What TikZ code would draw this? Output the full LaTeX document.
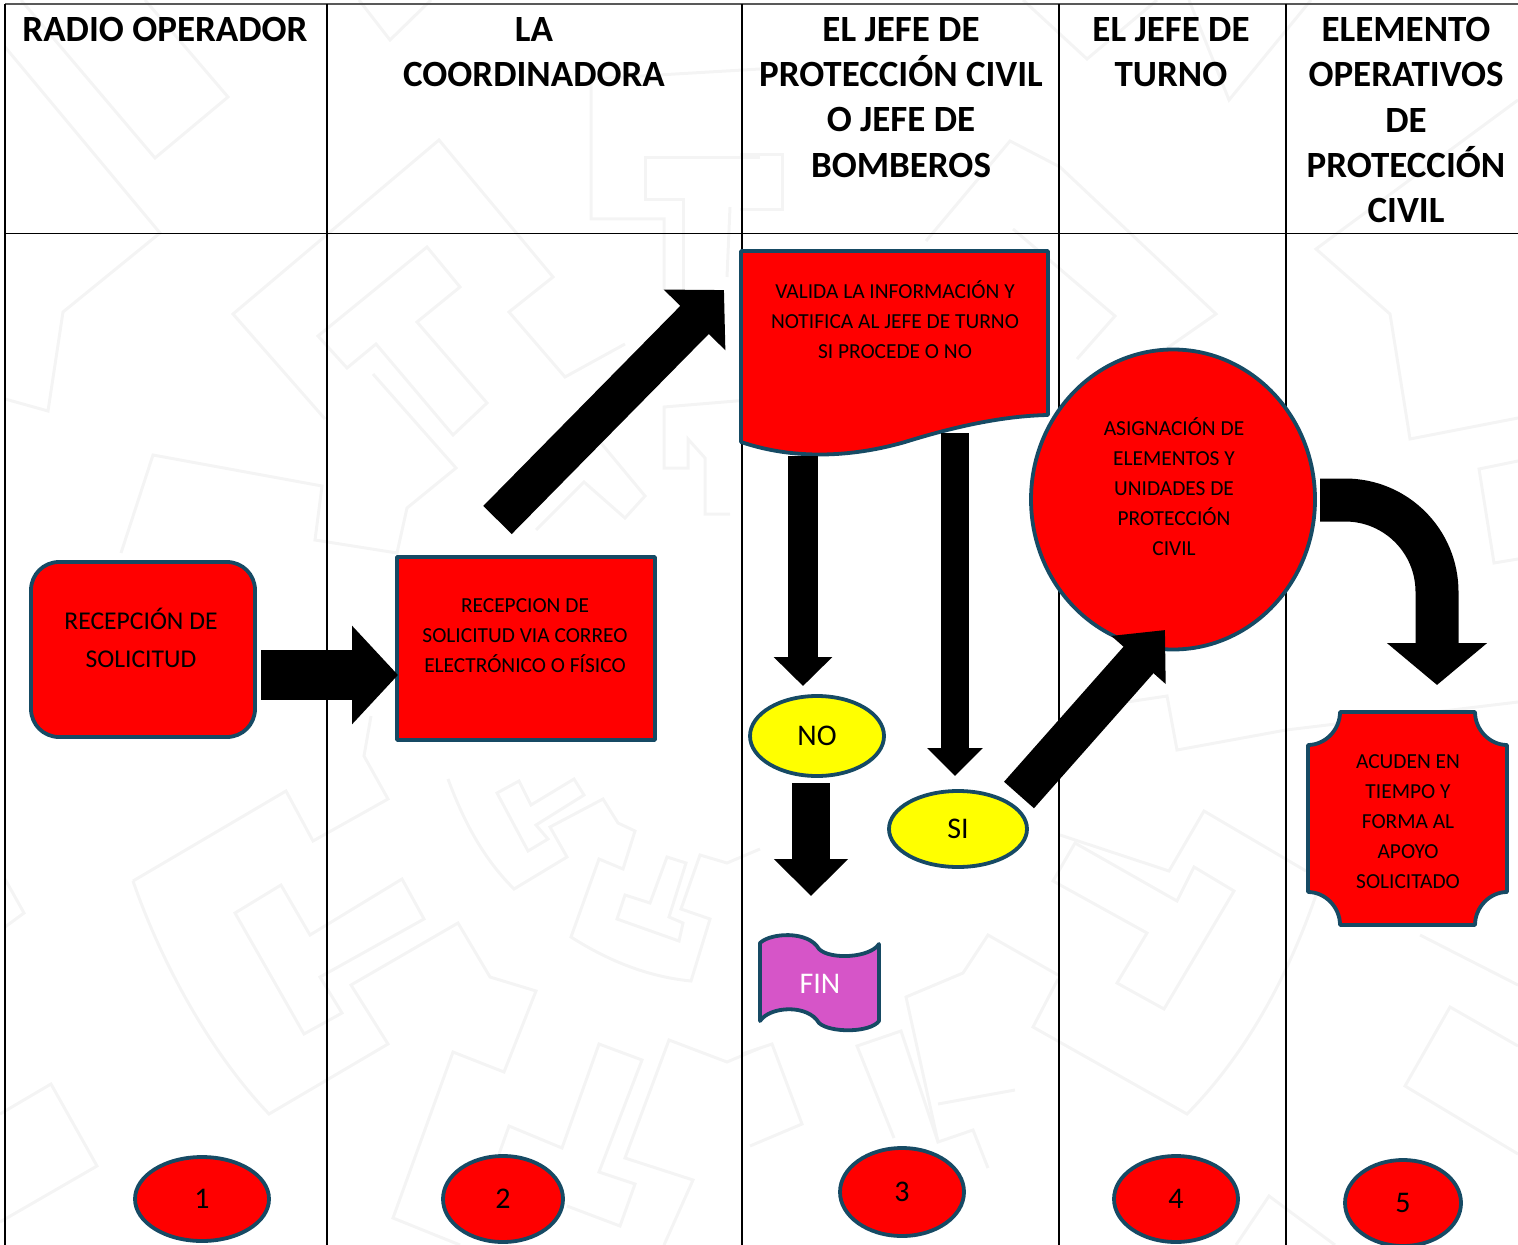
\documentclass[tikz,border=0pt]{standalone}
\usepackage{fontspec}
\setmainfont{Carlito}
\usetikzlibrary{arrows.meta,shapes.geometric}
\definecolor{shapeedge}{RGB}{22,74,100}
\definecolor{finfill}{RGB}{214,85,200}
\definecolor{markline}{RGB}{244,244,244}
\definecolor{ovalfill}{RGB}{255,255,0}
\tikzset{
  header/.style={align=center, font=\fontsize{18.5}{22.6}\selectfont\bfseries},
  bodytext/.style={align=center, font=\fontsize{10.7}{15}\selectfont},
  bigtext/.style={align=center, font=\fontsize{12.8}{19}\selectfont},
  shapeline/.style={draw=shapeedge, line width=1.9pt, line join=round},
  redbox/.style={shapeline, fill=red, inner sep=0pt, outer sep=0pt},
  oval/.style={shapeline, ellipse, inner sep=0pt, outer sep=0pt, font=\fontsize{15}{17}\selectfont},
  grid/.style={line width=0.7pt},
  watermark/.style={draw=markline, line width=1.5pt, line join=miter},
}
\begin{document}
\begin{tikzpicture}[x=0.5pt, y=-0.5pt]
    \useasboundingbox (0, 0) rectangle (1518, 1245);

    % faint background mark
    \draw [watermark] (5, 47) -- (160, 233) -- (63, 312) -- (48, 411) -- (5, 399);
    \draw [watermark] (21, 0) -- (155, 158) -- (228, 97) -- (145, 0);
    \draw [watermark] (359, 0) -- (390, 40) -- (431, 0);
    \draw [watermark] (325, 419) -- (233, 314) -- (439, 140) -- (553, 277) -- (509, 312) -- (565, 377) -- (625, 344);
    \draw [watermark] (318, 336) -- (427, 247) -- (460, 287) -- (417, 322) -- (487, 403) -- (453, 435) -- (376, 344) -- (347, 368) --cycle;
    \draw [watermark] (373, 374) -- (456, 468) -- (407, 508) -- (397, 553) -- (315, 540) -- (322, 486) -- (153, 455) -- (121, 553);
    \draw [watermark] (760, 69) -- (591, 79) -- (591, 219) -- (664, 219) -- (664, 290);
    \draw [watermark] (760, 158) -- (645, 158) -- (645, 200) -- (683, 200) -- (683, 291);
    \draw [watermark] (730, 207) -- (727, 277);
    \draw [watermark] (760, 399) -- (664, 407) -- (664, 468) -- (688, 468) -- (688, 439) -- (705, 458) -- (705, 514) -- (730, 514);
    \draw [watermark] (601, 443) -- (645, 496) -- (625, 518) -- (584, 482) -- (536, 530);
    \draw [watermark] (133, 881) -- (286, 791) -- (313, 841) -- (388, 799) -- (364, 756) -- (371, 716);
    \draw [watermark] (133, 881) .. controls (160, 959) and (208, 1050) .. (269, 1114) -- (388, 1044) -- (351, 985) -- (458, 923) -- (490, 977) -- (536, 991) -- (504, 1072) -- (453, 1052) -- (393, 1218) -- (460, 1245);
    \draw [watermark] (235, 913) -- (281, 885) -- (310, 935) -- (402, 879) -- (424, 919) -- (320, 977) -- (342, 1013) -- (304, 1034) --cycle;
    \draw [watermark] (497, 793) -- (519, 781) -- (531, 805) -- (574, 779) -- (584, 795) -- (536, 825) -- (548, 839) -- (528, 851) --cycle;
    \draw [watermark] (448, 779) .. controls (465, 825) and (485, 860) .. (514, 889) -- (567, 857) -- (550, 827) -- (603, 799) -- (618, 823) -- (635, 831) -- (623, 869) -- (599, 859) -- (571, 937) .. controls (610, 962) and (650, 977) .. (691, 981) -- (710, 919) -- (681, 909) -- (700, 855) -- (727, 863) -- (760, 849);
    \draw [watermark] (667, 857) -- (686, 863) -- (669, 917) -- (683, 923) -- (679, 941) -- (617, 919) -- (625, 895) -- (650, 903) --cycle;
    \draw [watermark] (760, 1048) -- (727, 1062) -- (669, 1040) -- (625, 1158) -- (693, 1180) -- (664, 1245);
    \draw [watermark] (499, 1154) -- (509, 1126) -- (562, 1148) -- (599, 1044) -- (642, 1060) -- (599, 1172) -- (635, 1184) -- (620, 1226) -- (567, 1206);
    \draw [watermark] (0, 1114) -- (51, 1084) -- (97, 1166) -- (0, 1222);
    \draw [watermark] (5, 879) -- (24, 913) -- (5, 927);
    \draw [watermark] (1023, 0) -- (1087, 59) -- (1157, 0);
    \draw [watermark] (1189, 0) -- (1229, 100) -- (1311, 0);
    \draw [watermark] (740, 155) -- (782, 155) -- (782, 210) -- (740, 210);
    \draw [watermark] (926, 241) -- (1010, 141) -- (1060, 167) -- (1216, 314) -- (1150, 360);
    \draw [watermark] (1013, 229) -- (1115, 316) -- (1077, 359);
    \draw [watermark] (1518, 100) -- (1316, 249) -- (1390, 314) -- (1410, 439) -- (1518, 418);
    \draw [watermark] (1518, 461) -- (1479, 469) -- (1494, 563) -- (1518, 559);
    \draw [watermark] (1127, 702) -- (1167, 696) -- (1177, 750) -- (1286, 730) -- (1518, 702);
    \draw [watermark] (1060, 835) -- (1169, 871) -- (1204, 811) -- (1306, 871);
    \draw [watermark] (1075, 843) -- (1053, 881) -- (1147, 933) -- (1117, 983) -- (1164, 1009) -- (1234, 891) -- (1194, 867) -- (1177, 901) --cycle;
    \draw [watermark] (1058, 979) -- (1033, 1027) -- (1187, 1114) .. controls (1250, 1050) and (1290, 970) .. (1316, 895);
    \draw [watermark] (1058, 975) -- (988, 935) -- (963, 973) -- (906, 997) -- (938, 1142) -- (973, 1130) -- (988, 1168);
    \draw [watermark] (938, 1104) -- (1015, 1090);
    \draw [watermark] (894, 1138) -- (857, 1046) -- (901, 1031) -- (938, 1142);
    \draw [watermark] (750, 1146) -- (802, 1124) -- (772, 1044) -- (742, 1054);
    \draw [watermark] (1518, 1046) -- (1450, 1007) -- (1405, 1086) -- (1518, 1154);
    \draw [watermark] (1518, 985) -- (1420, 935);
    \draw [watermark] (1236, 1245) -- (1269, 1196) -- (1335, 1245);

    % table
    \draw [grid, black!65] (5, 4) -- (1518, 4);
    \draw [grid] (5, 233.5) -- (1518, 233.5);
    \draw [grid] (5, 4) -- (5, 1245);
    \draw [grid] (327, 4) -- (327, 1245);
    \draw [grid] (742, 4) -- (742, 1245);
    \draw [grid] (1059, 4) -- (1059, 1245);
    \draw [grid] (1286, 4) -- (1286, 1245);

    \node [header] (radiohead) at (165, 30) {RADIO OPERADOR};
    \node [header] (coordhead) at (534, 52) {LA\\COORDINADORA};
    \node [header] (jefehead) at (901, 97.5) {EL JEFE DE\\PROTECCIÓN CIVIL\\O JEFE DE\\BOMBEROS};
    \node [header] (turnohead) at (1171, 52) {EL JEFE DE\\TURNO};
    \node [header] (elemhead) at (1406, 120) {ELEMENTO\\OPERATIVOS\\DE\\PROTECCIÓN\\CIVIL};

    % shapes
    \node (recep) [redbox, rounded corners=14pt, minimum width=112pt, minimum height=87.5pt] at (143, 649.5) {};
    \node [bigtext] (receptext) at (141, 638) {RECEPCIÓN DE\\SOLICITUD};

    \node (solic) [redbox, minimum width=129pt, minimum height=91.5pt] at (526, 648.5) {};
    \node [bodytext] (solictext) at (525, 636) {RECEPCION DE\\SOLICITUD VIA CORREO\\ELECTRÓNICO O FÍSICO};

    \draw [shapeline, fill=red] (741, 251) -- (1048, 251) -- (1048, 415)
      .. controls (1000, 416) and (950, 428) .. (905, 442)
      .. controls (860, 455) and (800, 462) .. (741, 442) --cycle;
    \node [bodytext] (validatext) at (895, 320) {VALIDA LA INFORMACIÓN Y\\NOTIFICA AL JEFE DE TURNO\\SI PROCEDE O NO};

    \node (asign) [oval, fill=red, minimum width=142pt, minimum height=150pt] at (1173, 499.5) {};
    \node [bodytext] (asigntext) at (1174, 487) {ASIGNACIÓN DE\\ELEMENTOS Y\\UNIDADES DE\\PROTECCIÓN\\CIVIL};

    \node (no) [oval, fill=ovalfill, minimum width=67pt, minimum height=40pt] at (817, 736) {NO};
    \node (si) [oval, fill=ovalfill, minimum width=69pt, minimum height=38pt] at (958, 829) {\raisebox{-1pt}{SI}};

    \draw [shapeline, fill=finfill] (760, 943)
      .. controls (770, 933) and (808, 930) .. (819, 949)
      .. controls (830, 960) and (870, 958) .. (879, 944) -- (879, 1021)
      .. controls (870, 1033) and (830, 1033) .. (819, 1023)
      .. controls (808, 1004) and (770, 1006) .. (760, 1021) --cycle;
    \node [font=\fontsize{15}{17}\selectfont, text=white] (fin) at (820, 984) {FIN};

    \draw [shapeline, fill=red] (1340, 712) -- (1475, 712)
      .. controls (1475, 730) and (1490, 745) .. (1507, 745) -- (1507, 892)
      .. controls (1490, 892) and (1475, 907) .. (1475, 925) -- (1340, 925)
      .. controls (1340, 907) and (1325, 892) .. (1308, 892) -- (1308, 745)
      .. controls (1325, 745) and (1340, 730) .. (1340, 712) --cycle;
    \node [bodytext] (acudentext) at (1408, 821.5) {ACUDEN EN\\TIEMPO Y\\FORMA AL\\APOYO\\SOLICITADO};

    \node (uno) [oval, fill=red, minimum width=67pt, minimum height=42pt] at (202, 1199) {1};
    \node (dos) [oval, fill=red, minimum width=60pt, minimum height=43pt] at (503, 1199) {2};
    \node (tres) [oval, fill=red, minimum width=62pt, minimum height=44pt] at (902, 1192) {3};
    \node (cuatro) [oval, fill=red, minimum width=62pt, minimum height=43pt] at (1176, 1199) {4};
    \node (cinco) [oval, fill=red, minimum width=58pt, minimum height=43pt] at (1403, 1203) {5};

    % arrows
    \coordinate (a1) at (261, 675);
    \coordinate (b1) at (398, 675);
    \draw [line width=25pt, -{Triangle[width=48pt, length=23pt]}] (a1) -- (b1);

    \coordinate (a2) at (497.5, 520);
    \coordinate (b2) at (724, 290);
    \draw [line width=20pt, -{Triangle[width=42pt, length=21pt]}] (a2) -- (b2);

    \coordinate (a3) at (803, 456);
    \coordinate (b3) at (803, 686);
    \draw [line width=15pt, -{Triangle[width=28.5pt, length=14.5pt]}] (a3) -- (b3);

    \coordinate (a4) at (955, 433);
    \coordinate (b4) at (955, 776);
    \draw [line width=14pt, -{Triangle[width=27pt, length=14pt]}] (a4) -- (b4);

    \coordinate (a5) at (1019, 795);
    \coordinate (b5) at (1165, 630);
    \draw [line width=20pt, -{Triangle[width=35pt, length=20pt]}] (a5) -- (b5);

    \coordinate (a6) at (811, 783);
    \coordinate (b6) at (811, 896);
    \draw [line width=19pt, -{Triangle[width=36pt, length=18.5pt]}] (a6) -- (b6);

    \coordinate (a7) at (1320, 500);
    \coordinate (c7) at (1345, 500);
    \coordinate (d7) at (1437, 592);
    \coordinate (b7) at (1437, 685);
    \draw [line width=21.5pt, -{Triangle[width=49pt, length=21pt]}] (a7) -- (c7) to [out=0, in=90] (d7) -- (b7);
\end{tikzpicture}
\end{document}
